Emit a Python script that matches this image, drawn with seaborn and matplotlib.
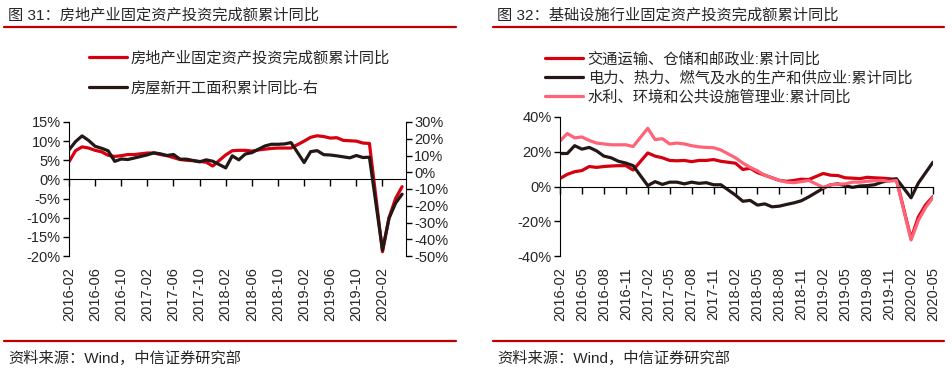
import numpy as np
import pandas as pd
import seaborn as sns
import matplotlib.pyplot as plt
from matplotlib.lines import Line2D

# months 2016-02 .. 2020-05 (January values are not published, kept as None)
months = [str(p) for p in pd.period_range('2016-02', '2020-05', freq='M')]

# chart 31: real estate FAI (left axis) and new starts area (right axis)
re_invest = [
    4.6, 7.5, 8.5, 8.2, 7.6, 7.2, 6.3, 6.0, 6.2, 6.5, 6.5,
    None, 6.9, 6.9, 6.5, 6.2, 5.7, 5.2, 5.0, 4.9, 4.7, 4.5, 3.5,
    None, 6.4, 7.5, 7.6, 7.6, 7.4, 7.7, 7.9, 8.1, 8.2, 8.2, 8.2,
    None, 10.0, 11.0, 11.4, 11.2, 10.8, 10.9, 10.2, 10.1, 10.0, 9.5, 9.4,
    None, -18.9, -10.0, -5.0, -1.9,
]
new_starts = [
    13.3, 18.3, 21.7, 19.0, 15.5, 14.3, 12.8, 6.5, 7.9, 7.6, 8.5,
    None, 10.4, 11.6, 11.0, 10.0, 10.6, 7.8, 7.8, 7.0, 6.2, 7.4, 6.6,
    None, 2.6, 9.8, 7.4, 10.9, 11.7, 13.7, 15.7, 16.7, 16.7, 16.9, 17.7,
    None, 5.8, 12.3, 12.9, 10.5, 10.3, 9.8, 9.2, 8.6, 10.0, 8.8, 9.0,
    None, -46.5, -27.5, -18.5, -13.1,
]

# chart 32: infrastructure sub-industries
transport = [
    4.6, 7.0, 8.5, 9.2, 11.5, 11.0, 11.5, 11.8, 12.0, 12.0, 9.5,
    None, 19.3, 17.5, 16.5, 15.0, 14.8, 15.0, 14.3, 15.0, 15.0, 15.5, 14.5,
    None, 13.4, 9.8, 10.5, 8.0, 6.5, 5.0, 3.5, 3.0, 3.5, 4.2, 4.0,
    None, 7.5, 6.5, 6.3, 5.0, 4.8, 4.5, 5.3, 5.0, 4.8, 4.5, 4.0,
    None, -30.0, -17.5, -10.5, -5.8,
]
power = [
    19.0, 19.0, 23.5, 21.5, 22.5, 20.5, 17.5, 16.5, 14.5, 13.5, 12.0,
    None, 0.5, 2.8, 1.2, 2.5, 2.5, 1.5, 2.5, 1.8, 2.2, 1.0, 1.0,
    None, -5.0, -8.5, -8.0, -10.7, -10.0, -11.7, -11.3, -10.3, -9.4, -8.2, -6.0,
    None, -1.0, 1.0, 1.5, 0.5, -0.5, 0.3, 0.5, 1.0, 2.5, 3.5, 4.5,
    None, -6.5, 2.0, 8.0, 14.0,
]
water_env = [
    26.2, 30.5, 28.0, 28.5, 26.5, 25.0, 24.5, 24.0, 24.0, 24.0, 23.0,
    None, 33.5, 27.0, 27.5, 24.5, 25.0, 24.5, 23.5, 22.8, 22.5, 22.3, 21.0,
    None, 16.5, 13.5, 11.0, 9.0, 6.5, 5.0, 3.5, 2.5, 2.2, 2.8, 3.5,
    None, -0.5, 1.0, 1.3, 1.5, 2.5, 2.5, 3.0, 3.3, 3.5, 3.0, 3.5,
    None, -30.8, -19.5, -12.0, -6.3,
]

left_xticks = ['2016-02', '2016-06', '2016-10', '2017-02', '2017-06', '2017-10', '2018-02',
               '2018-06', '2018-10', '2019-02', '2019-06', '2019-10', '2020-02']
right_xticks = ['2016-02', '2016-05', '2016-08', '2016-11', '2017-02', '2017-05', '2017-08',
                '2017-11', '2018-02', '2018-05', '2018-08', '2018-11', '2019-02', '2019-05',
                '2019-08', '2019-11', '2020-02', '2020-05']
left_yticks = [15, 10, 5, 0, -5, -10, -15, -20]
left2_yticks = [30, 20, 10, 0, -10, -20, -30, -40, -50]
right_yticks = [40, 20, 0, -20, -40]

titles = ['图 31：房地产业固定资产投资完成额累计同比', '图 32：基础设施行业固定资产投资完成额累计同比']
source = '资料来源：Wind，中信证券研究部'
labels31 = ['房地产业固定资产投资完成额累计同比', '房屋新开工面积累计同比-右']
labels32 = ['交通运输、仓储和邮政业:累计同比', '电力、热力、燃气及水的生产和供应业:累计同比',
            '水利、环境和公共设施管理业:累计同比']

RED = '#D7000F'
BLACK = '#231815'
PINK = '#FF6378'
RULE = '#C00000'

sns.set_style('ticks')
plt.rcParams['font.family'] = ['Liberation Sans', 'Noto Sans CJK SC']
plt.rcParams['axes.unicode_minus'] = False

df = pd.DataFrame({'month': months, 'x': np.arange(len(months)),
                   're': re_invest, 'ns': new_starts,
                   'tr': transport, 'pw': power, 'we': water_env})
for c in ['re', 'ns', 'tr', 'pw', 'we']:
    df[c] = pd.to_numeric(df[c])

fig = plt.figure(figsize=(9.53, 3.71), dpi=100)
LW = 2.3


def style_axis(ax, ticks, xmax):
    pos = [months.index(t) for t in ticks]
    for s in ['top', 'right']:
        ax.spines[s].set_visible(False)
    ax.spines['bottom'].set_position(('data', 0))
    ax.spines['left'].set_color('black')
    ax.spines['bottom'].set_color('black')
    ax.set_xticks(pos)
    ax.tick_params(axis='x', direction='out', length=5, width=1, labelbottom=False, color='black')
    ax.tick_params(axis='y', direction='out', length=4, width=1, labelsize=10.5, pad=2, color='black')
    ax.set_xlim(0, xmax)
    sec = ax.secondary_xaxis(0)
    sec.set_xticks(pos)
    sec.set_xticklabels(ticks, rotation=90, fontsize=10.5)
    sec.tick_params(length=0, pad=8)
    sec.spines['bottom'].set_visible(False)
    ax.set_xlabel('')
    ax.set_ylabel('')


# ---- left chart ----
ax1 = fig.add_axes([69 / 953, 1 - 256 / 371, 337 / 953, 134 / 371])
d = df.dropna(subset=['re'])
sns.lineplot(x=d['x'], y=d['re'], ax=ax1, color=RED, lw=LW, label=labels31[0], legend=False)
ax1.set_ylim(-20, 15)
ax1.set_yticks(left_yticks)
ax1.set_yticklabels([f'{v}%' for v in left_yticks])
style_axis(ax1, left_xticks, 51.6)

ax2 = ax1.twinx()
d = df.dropna(subset=['ns'])
sns.lineplot(x=d['x'], y=d['ns'], ax=ax2, color=BLACK, lw=LW, label=labels31[1], legend=False)
ax2.set_ylim(-50, 30)
ax2.set_yticks(left2_yticks)
ax2.set_yticklabels([f'{v}%' for v in left2_yticks])
for s in ['top', 'left', 'bottom']:
    ax2.spines[s].set_visible(False)
ax2.spines['right'].set_color('black')
ax2.tick_params(axis='y', direction='out', length=4, width=1, labelsize=10.5, pad=2, color='black')
ax2.set_ylabel('')

fig.legend(handles=[ax1.get_lines()[0], ax2.get_lines()[0]], labels=labels31,
           loc='upper left', bbox_to_anchor=(89 / 953, 1 - 51 / 371), frameon=False,
           borderpad=0, borderaxespad=0, handlelength=2.5, handletextpad=0.2,
           labelspacing=1.0, fontsize=11)

# ---- right chart ----
ax3 = fig.add_axes([560 / 953, 1 - 256 / 371, 373 / 953, 139 / 371])
for col, color, lab in [('tr', RED, labels32[0]), ('pw', BLACK, labels32[1]), ('we', PINK, labels32[2])]:
    d = df.dropna(subset=[col])
    sns.lineplot(x=d['x'], y=d[col], ax=ax3, color=color, lw=LW, label=lab, legend=False)
ax3.set_ylim(-40, 40)
ax3.set_yticks(right_yticks)
ax3.set_yticklabels([f'{v}%' for v in right_yticks])
style_axis(ax3, right_xticks, 51)

fig.legend(handles=ax3.get_lines()[:3], labels=labels32,
           loc='upper left', bbox_to_anchor=(545 / 953, 1 - 52 / 371), frameon=False,
           borderpad=0, borderaxespad=0, handlelength=2.5, handletextpad=0.3,
           labelspacing=0.28, fontsize=11)

# ---- titles, rules, sources ----
for x0, x1, tx, title in [(4, 456, 8, titles[0]), (493, 944, 497, titles[1])]:
    fig.text(tx / 953, 1 - 15 / 371, title, fontsize=11, va='center', ha='left')
    fig.add_artist(Line2D([x0 / 953, x1 / 953], [1 - 27 / 371] * 2, color=RULE, lw=1.6))
    fig.add_artist(Line2D([x0 / 953, x1 / 953], [1 - 341 / 371] * 2, color=RULE, lw=1.6))
    fig.text(tx / 953, 1 - 358 / 371, source, fontsize=11, va='center', ha='left')

fig.savefig('out.png', dpi=100)
